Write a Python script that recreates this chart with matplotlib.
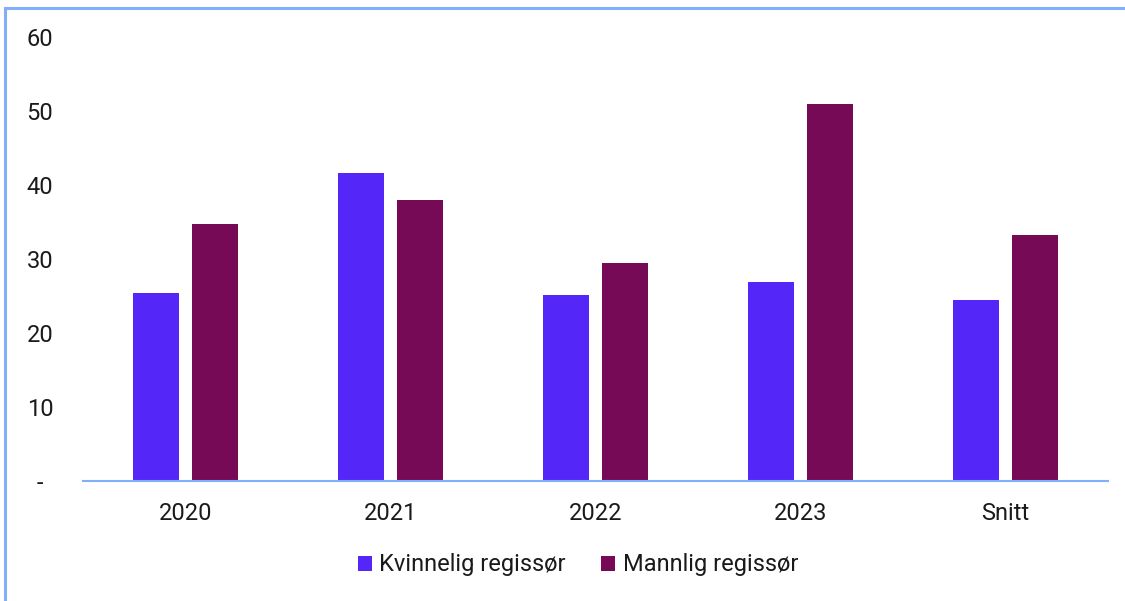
import numpy as np
import matplotlib.pyplot as plt

plt.rcParams['font.family'] = ['Roboto', 'DejaVu Sans']

categories = ["2020", "2021", "2022", "2023", "Snitt"]
kvinnelig = [25.4, 41.6, 25.1, 26.9, 24.5]
mannlig = [34.7, 38.0, 29.5, 50.9, 33.2]
yticks = [0, 10, 20, 30, 40, 50, 60]
ytick_labels = ["-", "10", "20", "30", "40", "50", "60"]

c_k = "#5526F8"
c_m = "#760A57"
c_line = "#82AEFA"

fig = plt.figure(figsize=(11.25, 6.01), dpi=100)
ax = fig.add_axes([83/1125, 1-481/601, 1025/1125, 444/601])

x = np.arange(len(categories))
w = 0.224
off = 0.142
ax.bar(x - off, kvinnelig, w, color=c_k, label="Kvinnelig regissør")
ax.bar(x + off, mannlig, w, color=c_m, label="Mannlig regissør")

ax.set_xlim(-0.5, len(categories) - 0.5)
ax.set_ylim(0, 60)
ax.set_xticks(x)
ax.set_xticklabels(categories, fontsize=17, color="#1a1a1a")
ax.set_yticks(yticks)
ax.set_yticklabels(ytick_labels, fontsize=17, color="#1a1a1a", ha="center")
ax.tick_params(axis="y", length=0, pad=31)
ax.tick_params(axis="x", length=0, pad=15)
for s in ["top", "right", "left"]:
    ax.spines[s].set_visible(False)
ax.spines["bottom"].set_color(c_line)
ax.spines["bottom"].set_linewidth(1.5)

leg = fig.legend(loc="center", bbox_to_anchor=(578/1125, 1-565/601), ncol=2,
                 frameon=False, fontsize=17, handlelength=0.6, handleheight=0.6,
                 handletextpad=0.3, columnspacing=1.5)
for t in leg.get_texts():
    t.set_color("#1a1a1a")

# outer border (only left and top visible)
fig.add_artist(plt.Line2D([4.5/1125, 4.5/1125], [0, 1-7.5/601], color=c_line, lw=2.2,
                          transform=fig.transFigure))
fig.add_artist(plt.Line2D([4.5/1125, 1], [1-7.5/601, 1-7.5/601], color=c_line, lw=2.2,
                          transform=fig.transFigure))

fig.savefig("out.png", dpi=100)
